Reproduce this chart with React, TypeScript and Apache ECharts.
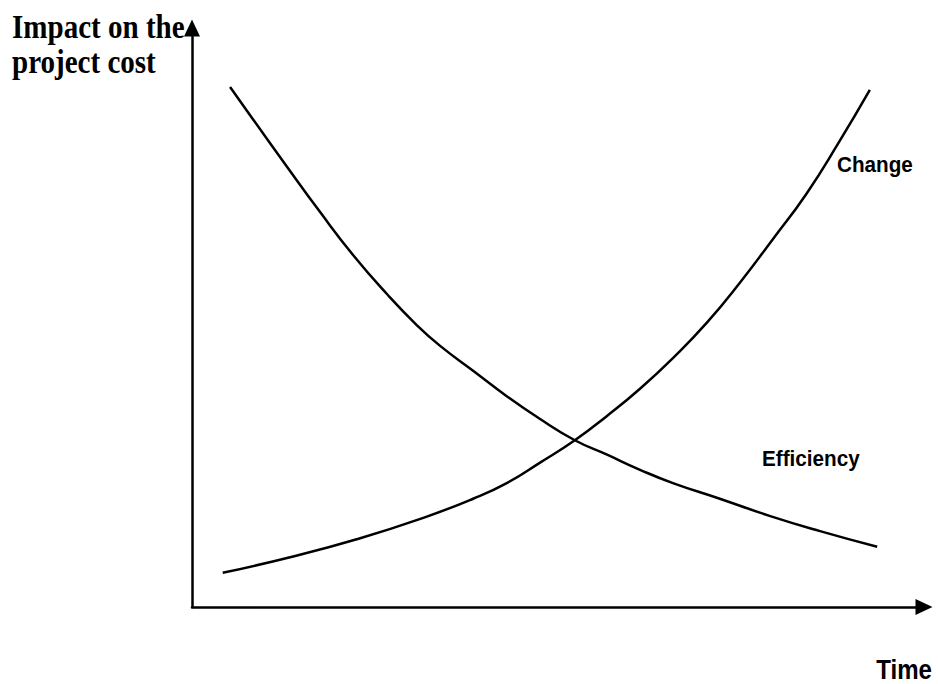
import React, { useEffect, useRef } from "react";
import * as echarts from "echarts";

// Time (x, 0-100) and impact (y, 0-100)
const efficiencyX = [5.2, 8.3, 13.0, 17.5, 22.0, 26.6, 30.7, 33.9, 38.4, 43.0, 47.5, 52.3, 56.7, 61.2, 65.7, 72.1, 79.0, 85.8, 93.6];
const efficiencyY = [89.8, 84.3, 76.0, 68.2, 60.8, 54.1, 48.7, 45.1, 40.8, 36.4, 32.5, 28.8, 26.3, 23.7, 21.4, 18.7, 15.7, 13.1, 10.4];
const changeX = [4.2, 13.4, 22.5, 31.6, 38.4, 43.0, 47.5, 52.3, 56.7, 61.2, 65.7, 70.4, 74.9, 79.4, 83.9, 88.3, 92.6];
const changeY = [5.9, 8.6, 11.7, 15.4, 18.7, 21.4, 24.9, 28.8, 33.0, 37.7, 43.0, 49.2, 56.1, 63.6, 71.3, 80.1, 89.3];

const yTitleLines = ["Impact on the", "project cost"];
const xTitle = "Time";
const seriesNames = ["Efficiency", "Change"];

export default function App() {
  const ref = useRef<HTMLDivElement>(null);
  useEffect(() => {
    if (!ref.current) return;
    const chart = echarts.init(ref.current, undefined, { renderer: "svg" });
    const pair = (xs: number[], ys: number[]) => xs.map((x, i) => [x, ys[i]]);
    const axisCommon = {
      type: "value" as const,
      min: 0,
      max: 100,
      axisLine: {
        show: true,
        symbol: ["none", "triangle"],
        symbolSize: [16, 17],
        lineStyle: { color: "#000", width: 2.5 },
      },
      axisTick: { show: false },
      axisLabel: { show: false },
      splitLine: { show: false },
    };
    const lineCommon = {
      type: "line" as const,
      smooth: 0.5,
      showSymbol: false,
      clip: false,
      lineStyle: { color: "#000", width: 2.5 },
    };
    chart.setOption({
      animation: false,
      backgroundColor: "#fff",
      grid: { left: 192, right: 14, top: 28, bottom: 77, containLabel: false },
      xAxis: axisCommon,
      yAxis: axisCommon,
      series: [
        { ...lineCommon, name: seriesNames[0], data: pair(efficiencyX, efficiencyY) },
        { ...lineCommon, name: seriesNames[1], data: pair(changeX, changeY) },
      ],
      graphic: [
        {
          type: "text",
          x: 12,
          y: 27,
          scaleX: 0.88,
          style: {
            text: yTitleLines[0],
            font: "bold 33px 'Liberation Serif'",
            fill: "#000",
            align: "left",
            verticalAlign: "middle",
          },
        },
        {
          type: "text",
          x: 12,
          y: 62,
          scaleX: 0.88,
          style: {
            text: yTitleLines[1],
            font: "bold 33px 'Liberation Serif'",
            fill: "#000",
            align: "left",
            verticalAlign: "middle",
          },
        },
        {
          type: "text",
          x: 932,
          y: 669,
          scaleX: 0.86,
          style: {
            text: xTitle,
            font: "bold 28px 'Liberation Sans'",
            fill: "#000",
            align: "right",
            verticalAlign: "middle",
          },
        },
        {
          type: "text",
          x: 837,
          y: 165,
          scaleX: 0.94,
          style: {
            text: seriesNames[1],
            font: "bold 22px 'Liberation Sans'",
            fill: "#000",
            align: "left",
            verticalAlign: "middle",
          },
        },
        {
          type: "text",
          x: 762,
          y: 459,
          scaleX: 0.94,
          style: {
            text: seriesNames[0],
            font: "bold 22px 'Liberation Sans'",
            fill: "#000",
            align: "left",
            verticalAlign: "middle",
          },
        },
      ],
    });
    return () => chart.dispose();
  }, []);
  return (
    <div
      ref={ref}
      style={{ position: "fixed", left: 0, top: 0, width: 938, height: 684 }}
    />
  );
}
